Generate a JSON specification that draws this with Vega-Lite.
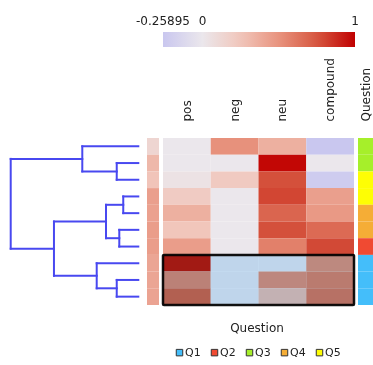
{
  "$schema": "https://vega.github.io/schema/vega-lite/v6.json",
  "autosize": {"type": "none"},
  "padding": {"left": 0, "top": 138, "right": 373, "bottom": 227},
  "background": "white",
  "config": {
    "view": {"stroke": null},
    "font": "DejaVu Sans"
  },
  "datasets": {
    "dendro": [
      {"x1": 0, "x2": 0.169, "y1": 1.5, "y2": 1.5},
      {"x1": 0, "x2": 0.169, "y1": 2.5, "y2": 2.5},
      {"x1": 0.169, "x2": 0.169, "y1": 1.5, "y2": 2.5},
      {"x1": 0, "x2": 0.439, "y1": 0.5, "y2": 0.5},
      {"x1": 0.169, "x2": 0.439, "y1": 2.0, "y2": 2.0},
      {"x1": 0.439, "x2": 0.439, "y1": 0.5, "y2": 2.0},
      {"x1": 0, "x2": 0.118, "y1": 3.5, "y2": 3.5},
      {"x1": 0, "x2": 0.118, "y1": 4.5, "y2": 4.5},
      {"x1": 0.118, "x2": 0.118, "y1": 3.5, "y2": 4.5},
      {"x1": 0, "x2": 0.149, "y1": 5.5, "y2": 5.5},
      {"x1": 0, "x2": 0.149, "y1": 6.5, "y2": 6.5},
      {"x1": 0.149, "x2": 0.149, "y1": 5.5, "y2": 6.5},
      {"x1": 0.118, "x2": 0.253, "y1": 4.0, "y2": 4.0},
      {"x1": 0.149, "x2": 0.253, "y1": 6.0, "y2": 6.0},
      {"x1": 0.253, "x2": 0.253, "y1": 4.0, "y2": 6.0},
      {"x1": 0, "x2": 0.169, "y1": 8.5, "y2": 8.5},
      {"x1": 0, "x2": 0.169, "y1": 9.5, "y2": 9.5},
      {"x1": 0.169, "x2": 0.169, "y1": 8.5, "y2": 9.5},
      {"x1": 0, "x2": 0.326, "y1": 7.5, "y2": 7.5},
      {"x1": 0.169, "x2": 0.326, "y1": 9.0, "y2": 9.0},
      {"x1": 0.326, "x2": 0.326, "y1": 7.5, "y2": 9.0},
      {"x1": 0.253, "x2": 0.661, "y1": 5.0, "y2": 5.0},
      {"x1": 0.326, "x2": 0.661, "y1": 8.25, "y2": 8.25},
      {"x1": 0.661, "x2": 0.661, "y1": 5.0, "y2": 8.25},
      {"x1": 0.439, "x2": 1.0, "y1": 1.25, "y2": 1.25},
      {"x1": 0.661, "x2": 1.0, "y1": 6.625, "y2": 6.625},
      {"x1": 1.0, "x2": 1.0, "y1": 1.25, "y2": 6.625}
    ],
    "strip": [
      {"row": 1, "value": 0.14, "question": "Q3"},
      {"row": 2, "value": 0.32, "question": "Q3"},
      {"row": 3, "value": 0.26, "question": "Q5"},
      {"row": 4, "value": 0.44, "question": "Q5"},
      {"row": 5, "value": 0.43, "question": "Q4"},
      {"row": 6, "value": 0.45, "question": "Q4"},
      {"row": 7, "value": 0.45, "question": "Q2"},
      {"row": 8, "value": 0.41, "question": "Q1"},
      {"row": 9, "value": 0.41, "question": "Q1"},
      {"row": 10, "value": 0.42, "question": "Q1"}
    ],
    "heat": [
      {"row": 1, "col": "pos", "value": 0.0},
      {"row": 1, "col": "neg", "value": 0.51},
      {"row": 1, "col": "neu", "value": 0.36},
      {"row": 1, "col": "compound", "value": -0.25895},
      {"row": 2, "col": "pos", "value": 0.0},
      {"row": 2, "col": "neg", "value": 0.0},
      {"row": 2, "col": "neu", "value": 0.98},
      {"row": 2, "col": "compound", "value": 0.0},
      {"row": 3, "col": "pos", "value": 0.04},
      {"row": 3, "col": "neg", "value": 0.22},
      {"row": 3, "col": "neu", "value": 0.77},
      {"row": 3, "col": "compound", "value": -0.22},
      {"row": 4, "col": "pos", "value": 0.21},
      {"row": 4, "col": "neg", "value": 0.0},
      {"row": 4, "col": "neu", "value": 0.8},
      {"row": 4, "col": "compound", "value": 0.44},
      {"row": 5, "col": "pos", "value": 0.36},
      {"row": 5, "col": "neg", "value": 0.0},
      {"row": 5, "col": "neu", "value": 0.69},
      {"row": 5, "col": "compound", "value": 0.47},
      {"row": 6, "col": "pos", "value": 0.25},
      {"row": 6, "col": "neg", "value": 0.0},
      {"row": 6, "col": "neu", "value": 0.77},
      {"row": 6, "col": "compound", "value": 0.67},
      {"row": 7, "col": "pos", "value": 0.45},
      {"row": 7, "col": "neg", "value": 0.0},
      {"row": 7, "col": "neu", "value": 0.58},
      {"row": 7, "col": "compound", "value": 0.79},
      {"row": 8, "col": "pos", "value": 0.92},
      {"row": 8, "col": "neg", "value": 0.0},
      {"row": 8, "col": "neu", "value": 0.0},
      {"row": 8, "col": "compound", "value": 0.49},
      {"row": 9, "col": "pos", "value": 0.53},
      {"row": 9, "col": "neg", "value": 0.0},
      {"row": 9, "col": "neu", "value": 0.5},
      {"row": 9, "col": "compound", "value": 0.56},
      {"row": 10, "col": "pos", "value": 0.68},
      {"row": 10, "col": "neg", "value": 0.0},
      {"row": 10, "col": "neu", "value": 0.28},
      {"row": 10, "col": "compound", "value": 0.6}
    ],
    "selection": [
      {"from": 7, "to": 10}
    ]
  },
  "spacing": 4,
  "bounds": "flush",
  "hconcat": [
    {
      "width": 143,
      "height": 167,
      "data": {"name": "dendro"},
      "mark": {"type": "rule", "color": "#4848f0", "strokeWidth": 2, "strokeCap": "square"},
      "encoding": {
        "x": {"field": "x1", "type": "quantitative", "scale": {"domain": [-0.0368, 1.0839], "reverse": true, "nice": false, "zero": false}, "axis": null},
        "x2": {"field": "x2"},
        "y": {"field": "y1", "type": "quantitative", "scale": {"domain": [0, 10], "reverse": true, "nice": false, "zero": false}, "axis": null},
        "y2": {"field": "y2"}
      }
    },
    {
      "width": 12,
      "height": 167,
      "data": {"name": "strip"},
      "mark": {"type": "rect"},
      "encoding": {
        "y": {"field": "row", "type": "ordinal", "scale": {"paddingInner": 0, "paddingOuter": 0}, "axis": null},
        "fill": {
          "field": "value", "type": "quantitative",
          "scale": {"domain": [-0.25895, 0, 0.25, 0.5, 0.75, 1], "range": ["#c9c7ef", "#ebe7ec", "#f1c6bb", "#e8937e", "#d65740", "#c00000"], "interpolate": "rgb"}
        }
      }
    },
    {
      "width": 191,
      "height": 167,
      "layer": [
        {
          "data": {"name": "heat"},
          "mark": {"type": "rect"},
          "encoding": {
            "x": {
              "field": "col", "type": "nominal", "sort": ["pos", "neg", "neu", "compound"],
              "scale": {"paddingInner": 0, "paddingOuter": 0},
              "axis": {"orient": "top", "title": null, "labelAngle": -90, "labelAlign": "left", "labelBaseline": "middle", "labelPadding": 17, "ticks": false, "tickSize": 0, "domain": false, "labelFontSize": 12, "labelColor": "#222222"}
            },
            "y": {"field": "row", "type": "ordinal", "scale": {"paddingInner": 0, "paddingOuter": 0}, "axis": null},
            "fill": {
              "field": "value", "type": "quantitative",
              "scale": {"domain": [-0.25895, 0, 0.25, 0.5, 0.75, 1], "range": ["#c9c7ef", "#ebe7ec", "#f1c6bb", "#e8937e", "#d65740", "#c00000"], "interpolate": "rgb"},
              "legend": {
                "orient": "none", "legendX": 163, "legendY": -106, "direction": "horizontal",
                "gradientLength": 192, "gradientThickness": 15, "gradientStrokeWidth": 0,
                "title": null, "values": [-0.25895, 0, 1], "labelExpr": "'' + datum.value",
                "labelOffset": -22.5,
                "labelFontSize": 12, "labelColor": "#222222", "labelOverlap": false, "padding": 0,
                "encode": {"labels": {"update": {"align": {"value": "center"}, "baseline": {"value": "alphabetic"}}}}
              }
            }
          }
        },
        {
          "data": {"name": "selection"},
          "mark": {"type": "rect", "fill": "#d0ebfe", "blend": "multiply", "stroke": "#111111", "strokeWidth": 2.5, "cornerRadius": 1},
          "encoding": {
            "y": {"field": "from", "type": "quantitative", "scale": {"domain": [0, 10], "reverse": true, "nice": false, "zero": false}, "axis": null},
            "y2": {"field": "to"}
          }
        }
      ],
      "resolve": {"scale": {"y": "independent"}}
    },
    {
      "width": 15,
      "height": 167,
      "data": {"name": "strip"},
      "mark": {"type": "rect"},
      "encoding": {
        "x": {
          "datum": "Question", "type": "nominal",
          "scale": {"paddingInner": 0, "paddingOuter": 0},
          "axis": {"orient": "top", "title": null, "labelAngle": -90, "labelAlign": "left", "labelBaseline": "middle", "labelPadding": 17, "ticks": false, "tickSize": 0, "domain": false, "labelFontSize": 12, "labelColor": "#222222"}
        },
        "y": {"field": "row", "type": "ordinal", "scale": {"paddingInner": 0, "paddingOuter": 0}, "axis": null},
        "color": {
          "field": "question", "type": "nominal",
          "scale": {"domain": ["Q1", "Q2", "Q3", "Q4", "Q5"], "range": ["#44befa", "#f04a32", "#a6ef2a", "#f5ad36", "#fefe04"]},
          "legend": {
            "orient": "none", "legendX": 174, "legendY": 185, "direction": "horizontal", "columns": 5,
            "title": "Question", "titleAnchor": "middle", "titleFontSize": 12, "titleFontWeight": "normal", "titleColor": "#222222", "titlePadding": 12,
            "symbolType": "square", "symbolSize": 42, "symbolStrokeWidth": 1, "symbolStrokeColor": "#333333",
            "labelFontSize": 11, "labelOffset": 0, "labelColor": "#222222", "columnPadding": 8, "padding": 0,
            "encode": {"symbols": {"update": {"stroke": {"value": "#333333"}, "strokeWidth": {"value": 1}}}}
          }
        }
      }
    }
  ]
}
